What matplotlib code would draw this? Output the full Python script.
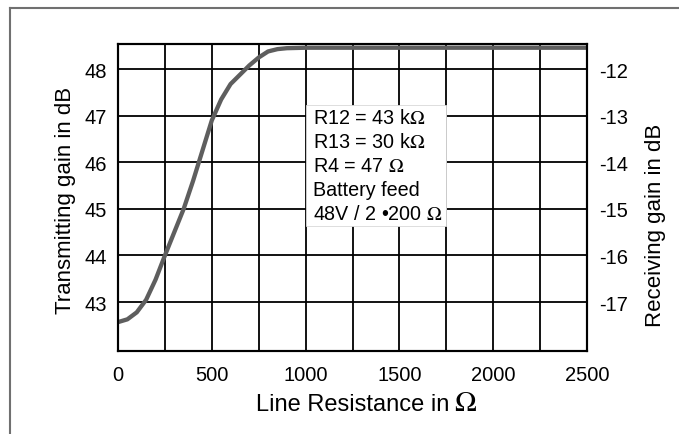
import matplotlib
matplotlib.use("Agg")
import matplotlib.pyplot as plt
from matplotlib.lines import Line2D
from matplotlib.patches import Rectangle

plt.rcParams['font.family'] = ['Liberation Sans', 'DejaVu Sans']
plt.rcParams['mathtext.fontset'] = 'stix'

# Data
resistance = [0, 50, 100, 150, 200, 250, 300, 350, 400, 450, 500, 550, 600, 650,
              700, 750, 800, 850, 900, 1000, 1250, 1500, 1750, 2000, 2250, 2500]
tx_gain = [42.57, 42.63, 42.78, 43.05, 43.48, 44.0, 44.5, 45.0, 45.6, 46.25, 46.9,
           47.35, 47.68, 47.88, 48.08, 48.25, 48.38, 48.43, 48.45, 48.46, 48.46,
           48.46, 48.46, 48.46, 48.46, 48.46]
x_ticks = [0, 500, 1000, 1500, 2000, 2500]
x_grid = [0, 250, 500, 750, 1000, 1250, 1500, 1750, 2000, 2250, 2500]
left_ticks = [43, 44, 45, 46, 47, 48]
right_ticks = [-17, -16, -15, -14, -13, -12]
offset = 60  # receiving = transmitting - 60
box_lines = ["R12 = 43 k$\\Omega$", "R13 = 30 k$\\Omega$", "R4 = 47 $\\Omega$",
             "Battery feed", "48V / 2 \u2022200 $\\Omega$"]

W, H = 679, 435
fig = plt.figure(figsize=(W / 100, H / 100), dpi=100)
ax = fig.add_axes([118 / W, 1 - 352 / H, (587 - 118) / W, (352 - 45) / H])

ylo, yhi = 41.95, 48.54
ax.set_xlim(0, 2500)
ax.set_ylim(ylo, yhi)
ax.set_axisbelow(True)
for xv in x_grid:
    ax.axvline(xv, color='black', lw=1.3, zorder=0.5)
for yv in left_ticks:
    ax.axhline(yv, color='black', lw=1.3, zorder=0.5)

ax.set_xticks(x_ticks)
ax.set_yticks(left_ticks)
ax.tick_params(length=0, labelsize=14.5)
ax.tick_params(axis='x', pad=10)
ax.tick_params(axis='y', pad=8)
for s in ax.spines.values():
    s.set_linewidth(1.5)

# text box
ax.add_patch(Rectangle((1000, 44.63), 750, 47.23 - 44.63, facecolor='white',
                       edgecolor='#d8d8d8', lw=0.6, zorder=1))
line_y = [119, 143, 167, 191, 215]
for txt, py in zip(box_lines, line_y):
    fig.text(313 / W, 1 - py / H, txt, ha='left', va='center', fontsize=14.2)

ax.plot(resistance, tx_gain, color='#5e5e5e', lw=3.1, solid_capstyle='butt', zorder=2)

ax2 = ax.twinx()
ax2.set_ylim(ylo - offset, yhi - offset)
ax2.set_yticks(right_ticks)
ax2.set_yticklabels([f"{t}" for t in right_ticks])
ax2.tick_params(length=0, labelsize=14.5, pad=8.5)
for s in ax2.spines.values():
    s.set_linewidth(1.5)

fig.text(449 / W, 1 - 411 / H, "Line Resistance in", ha='right', va='baseline', fontsize=17)
fig.text(454 / W, 1 - 411 / H, "\u03A9", ha='left', va='baseline', fontsize=21,
         family='STIXGeneral')
fig.text(66 / W, 1 - 200 / H, "Transmitting gain in dB", ha='center', va='center',
         rotation=90, fontsize=16)
fig.text(655 / W, 1 - 225 / H, "Receiving gain in dB", ha='center', va='center',
         rotation=90, fontsize=16)

# outer frame (partially outside the image)
fig.add_artist(Line2D([10 / W, 1.0], [1 - 9 / H, 1 - 9 / H], color='#707070', lw=1.5,
                      transform=fig.transFigure))
fig.add_artist(Line2D([10 / W, 10 / W], [1 - 9 / H, 0], color='#707070', lw=1.5,
                      transform=fig.transFigure))

fig.savefig("out.png", dpi=100)
